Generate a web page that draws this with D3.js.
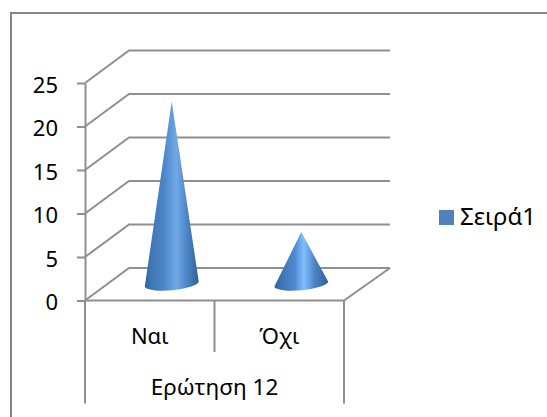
<!DOCTYPE html>
<html>
<head>
<meta charset="utf-8">
<script src="https://cdn.jsdelivr.net/npm/d3@7"></script>
<style>
  html, body { margin: 0; padding: 0; background: #fff; }
  text { font-family: "Noto Sans", "Open Sans", sans-serif; fill: #000; }
</style>
</head>
<body>
<div id="graph-container"></div>
<script>
var categories = ["Ναι", "Όχι"];
var values = [21, 6];
var groupLabel = "Ερώτηση 12";
var seriesName = "Σειρά1";
var yTicks = [0, 5, 10, 15, 20, 25];

var width = 547;
var height = 417;
var gridColor = "#8f8f8f";

// front face of the 3d box, the back wall is the same thing moved by depth
var left = 85, right = 344, top0 = 83, bottom = 300.5;
var depthX = 44, depthY = -32.5;

var svg = d3.select("#graph-container")
            .append("svg")
            .attr("width", width)
            .attr("height", height)
            .style("display", "block");

var x = d3.scaleBand().domain(categories).range([left, right]);
var y = d3.scaleLinear().domain([0, 25]).range([bottom, top0]);

// chart border, the window cuts off the right and bottom sides
svg.append("path")
   .attr("fill", "none")
   .attr("stroke", "#868686")
   .attr("stroke-width", 2)
   .attr("d", d3.line()([[11, height], [11, 13], [width, 13]]));

function addGradient(id, stops) {
    var grad = svg.append("defs").append("linearGradient")
                  .attr("id", id).attr("x1", 0).attr("x2", 1).attr("y1", 0).attr("y2", 0);
    stops.forEach(function(s) {
        grad.append("stop").attr("offset", s[0]).attr("stop-color", s[1]);
    });
}
addGradient("cone0", [["0%", "#2f63a0"], ["12%", "#3f76b6"], ["35%", "#4c85c6"], ["58%", "#70a8e8"], ["78%", "#4c85c5"], ["100%", "#2f619c"]]);
addGradient("cone1", [["0%", "#2f63a0"], ["15%", "#3f76b6"], ["38%", "#4f8ad0"], ["55%", "#82beff"], ["75%", "#4a83c4"], ["100%", "#2f619c"]]);

// gridlines: slanted side wall then the back wall
yTicks.forEach(function(t) {
    svg.append("path")
       .attr("fill", "none")
       .attr("stroke", gridColor)
       .attr("stroke-width", 2)
       .attr("d", d3.line()([
           [left, y(t)],
           [left + depthX, y(t) + depthY],
           [right + depthX + 2, y(t) + depthY]
       ]));
});

// floor right edge and front edge
svg.append("path")
   .attr("fill", "none")
   .attr("stroke", gridColor)
   .attr("stroke-width", 2)
   .attr("d", d3.line()([
       [right + depthX + 2, y(0) + depthY],
       [right, y(0)],
       [left, y(0)]
   ]));

// y axis
var yAxis = svg.append("g")
   .attr("transform", "translate(" + left + ",0)")
   .call(d3.axisLeft(y).tickValues(yTicks).tickSize(8).tickPadding(19).tickSizeOuter(0));
yAxis.select(".domain").attr("stroke", gridColor).attr("stroke-width", 2);
yAxis.selectAll("line").attr("stroke", gridColor).attr("stroke-width", 2);
yAxis.selectAll("text")
     .attr("font-size", 22)
     .attr("font-family", "Noto Sans")
     .attr("dy", "0.42em");

// category axis with two levels
var midY = 352, lowY = 403.5;
[left, right].forEach(function(px) {
    svg.append("line").attr("x1", px).attr("x2", px).attr("y1", bottom).attr("y2", lowY)
       .attr("stroke", gridColor).attr("stroke-width", 2);
});
svg.append("line").attr("x1", x(categories[1])).attr("x2", x(categories[1])).attr("y1", bottom).attr("y2", midY)
   .attr("stroke", gridColor).attr("stroke-width", 2);

svg.selectAll(".cat")
   .data(categories)
   .enter().append("text")
   .attr("class", "cat")
   .attr("x", d => x(d) + x.bandwidth() / 2)
   .attr("y", 344)
   .attr("text-anchor", "middle")
   .attr("font-size", 22)
   .text(d => d);

svg.append("text")
   .attr("x", (left + right) / 2)
   .attr("y", 395)
   .attr("text-anchor", "middle")
   .attr("font-size", 22.5)
   .text(groupLabel);

// cones stand in the middle of the floor depth, base is a tilted half ellipse
var coneR = 27;
function conePath(d) {
    var cx = x(d.cat) + x.bandwidth() / 2 + depthX / 2;
    var base = y(0) + depthY / 2;
    var tip = y(d.value) + depthY / 2;
    return "M" + cx + "," + tip +
           "L" + (cx + coneR) + "," + (base - 2.5) +
           "A" + (coneR + 0.2) + " 6.5 -5.3 0 1 " + (cx - coneR) + "," + (base + 2.5) + "Z";
}

svg.selectAll(".cone")
   .data(categories.map((c, i) => ({cat: c, value: values[i]})))
   .enter().append("path")
   .attr("class", "cone")
   .attr("fill", (d, i) => "url(#cone" + i + ")")
   .attr("d", conePath);

// legend
svg.append("rect")
   .attr("x", 439).attr("y", 210)
   .attr("width", 15).attr("height", 15)
   .attr("fill", "#4f81bd");
svg.append("text")
   .attr("x", 460)
   .attr("y", 225)
   .attr("font-size", 24)
   .text(seriesName);
</script>
</body>
</html>
